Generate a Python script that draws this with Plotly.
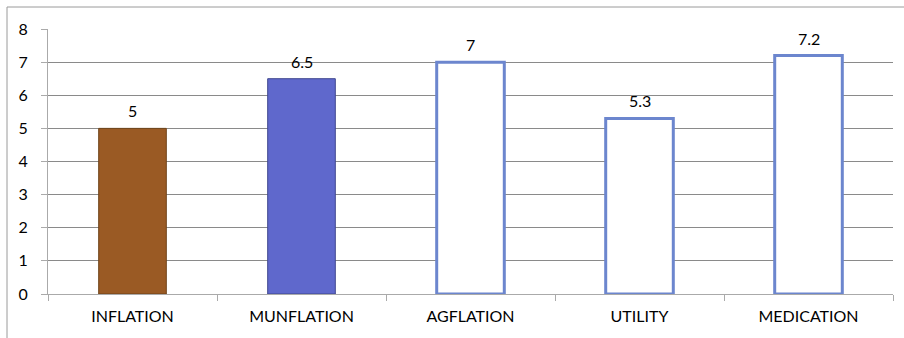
import plotly.graph_objects as go

categories = ["INFLATION", "MUNFLATION", "AGFLATION", "UTILITY", "MEDICATION"]
values = [5, 6.5, 7, 5.3, 7.2]
value_labels = ["5", "6.5", "7", "5.3", "7.2"]
fill_colors = ["#9A5A24", "#5F68CC", "white", "white", "white"]
line_colors = ["#6E4319", "#3F478F", "#6C86CE", "#6C86CE", "#6C86CE"]
line_widths = [1, 1, 3, 3, 3]

W, H = 904, 338
ml, mr, mt, mb = 48, 11, 29, 44
pw, ph = W - ml - mr, H - mt - mb

fig = go.Figure()
fig.add_trace(go.Bar(
    x=categories, y=values, width=0.4,
    marker=dict(color=fill_colors, line=dict(color=line_colors, width=line_widths)),
    showlegend=False, hoverinfo="skip",
))

for c, v, t in zip(categories, values, value_labels):
    fig.add_annotation(x=c, y=v, text=t, showarrow=False, yanchor="bottom",
                       yshift=6, font=dict(size=16, color="#000", family="Lato"))

# outer frame
fx0 = (7 - ml) / pw
fy1 = 1 + (mt - 7) / ph
fig.add_shape(type="rect", xref="paper", yref="paper",
              x0=fx0, x1=1 + (mr + 20) / pw, y0=-(mb + 20) / ph, y1=fy1,
              line=dict(color="#9a9a9a", width=1), fillcolor="rgba(0,0,0,0)", layer="below")

fig.update_layout(
    width=W, height=H,
    margin=dict(l=ml, r=mr, t=mt, b=mb),
    paper_bgcolor="white", plot_bgcolor="white",
    font=dict(family="Lato", size=16, color="#000"),
    bargap=0.6,
)
fig.update_xaxes(
    showline=True, linecolor="#aaaaaa", linewidth=1,
    ticks="outside", ticklen=6, tickcolor="#aaaaaa", tickson="boundaries",
    showgrid=False, tickfont=dict(size=16), ticklabelstandoff=8, fixedrange=True,
)
fig.update_yaxes(
    range=[0, 8], dtick=1, showline=True, linecolor="#aaaaaa", linewidth=1,
    ticks="outside", ticklen=6, tickcolor="#aaaaaa",
    showgrid=True, gridcolor="#8a8a8a", gridwidth=1,
    zeroline=False, tickfont=dict(size=16), ticklabelstandoff=10, fixedrange=True,
)

fig.write_html("out.html", config=dict(displayModeBar=False))
